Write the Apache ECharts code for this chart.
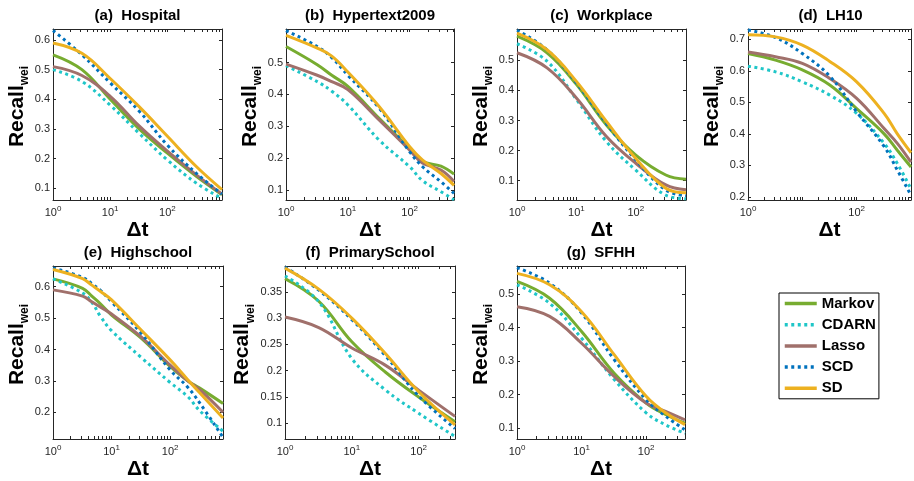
<!DOCTYPE html>
<html>
<head>
<meta charset="utf-8">
<script src="https://cdn.jsdelivr.net/npm/echarts@6/dist/echarts.min.js"></script>
<style>
  html, body { margin: 0; padding: 0; background: #fff; }
  #chart { width: 914px; height: 481px; }
</style>
</head>
<body>
<div id="chart"></div>
<script>
// Recall_wei against the prediction horizon Δt, five methods on seven contact networks
const methods = ['Markov', 'CDARN', 'Lasso', 'SCD', 'SD'];

// (a) Hospital
const dtHospital      = [1, 3.2, 10, 32, 100, 320, 900];
const markovHospital  = [0.55, 0.50, 0.40, 0.30, 0.218, 0.14, 0.078];
const cdarnHospital   = [0.50, 0.46, 0.38, 0.285, 0.195, 0.117, 0.065];
const lassoHospital   = [0.51, 0.48, 0.41, 0.31, 0.225, 0.145, 0.08];
const scdHospital     = [0.632, 0.55, 0.455, 0.36, 0.245, 0.15, 0.08];
const sdHospital      = [0.59, 0.555, 0.47, 0.375, 0.275, 0.173, 0.095];
const yTicksHospital  = [0.1, 0.2, 0.3, 0.4, 0.5, 0.6];

// (b) Hypertext2009
const dtHypertext     = [1, 3.2, 5.5, 10, 32, 100, 160, 320, 520];
const markovHypertext = [0.55, 0.493, 0.46, 0.425, 0.325, 0.23, 0.19, 0.175, 0.15];
const cdarnHypertext  = [0.49, 0.44, 0.41, 0.367, 0.257, 0.173, 0.13, 0.095, 0.07];
const lassoHypertext  = [0.495, 0.46, 0.44, 0.415, 0.32, 0.225, 0.185, 0.163, 0.127];
const scdHypertext    = [0.60, 0.55, 0.515, 0.46, 0.357, 0.22, 0.174, 0.126, 0.09];
const sdHypertext     = [0.585, 0.545, 0.52, 0.47, 0.362, 0.236, 0.195, 0.152, 0.115];
const yTicksHypertext = [0.1, 0.2, 0.3, 0.4, 0.5];

// (c) Workplace
const dtWorkplace     = [1, 3.2, 10, 32, 100, 320, 700];
const markovWorkplace = [0.58, 0.525, 0.42, 0.285, 0.185, 0.119, 0.105];
const cdarnWorkplace  = [0.555, 0.497, 0.37, 0.23, 0.135, 0.052, 0.04];
const lassoWorkplace  = [0.525, 0.475, 0.375, 0.247, 0.158, 0.086, 0.07];
const scdWorkplace    = [0.60, 0.535, 0.425, 0.29, 0.169, 0.069, 0.05];
const sdWorkplace     = [0.59, 0.535, 0.43, 0.297, 0.174, 0.075, 0.06];
const yTicksWorkplace = [0.1, 0.2, 0.3, 0.4, 0.5];

// (d) LH10
const dtLH10          = [1, 3.2, 10, 32, 100, 320, 560, 1000];
const markovLH10      = [0.655, 0.634, 0.603, 0.555, 0.48, 0.40, 0.348, 0.295];
const cdarnLH10       = [0.615, 0.597, 0.565, 0.523, 0.465, 0.37, 0.306, 0.225];
const lassoLH10       = [0.66, 0.645, 0.624, 0.576, 0.513, 0.417, 0.37, 0.31];
const scdLH10         = [0.73, 0.706, 0.655, 0.583, 0.47, 0.36, 0.285, 0.205];
const sdLH10          = [0.715, 0.708, 0.682, 0.63, 0.565, 0.465, 0.40, 0.34];
const yTicksLH10      = [0.2, 0.3, 0.4, 0.5, 0.6, 0.7];

// (e) Highschool
const dtHighschool     = [1, 3.2, 4.6, 6.5, 10, 32, 100, 200, 320, 800];
const markovHighschool = [0.625, 0.595, 0.57, 0.545, 0.51, 0.436, 0.346, 0.30, 0.277, 0.228];
const cdarnHighschool  = [0.625, 0.58, 0.55, 0.505, 0.46, 0.375, 0.295, 0.25, 0.205, 0.14];
const lassoHighschool  = [0.59, 0.57, 0.552, 0.535, 0.513, 0.44, 0.35, 0.30, 0.272, 0.20];
const scdHighschool    = [0.66, 0.63, 0.61, 0.588, 0.552, 0.452, 0.335, 0.28, 0.23, 0.12];
const sdHighschool     = [0.655, 0.626, 0.605, 0.585, 0.558, 0.462, 0.367, 0.304, 0.262, 0.182];
const yTicksHighschool = [0.2, 0.3, 0.4, 0.5, 0.6];

// (f) PrimarySchool
const dtPrimary       = [1, 3.2, 10, 32, 100, 350];
const markovPrimary   = [0.375, 0.332, 0.255, 0.197, 0.15, 0.103];
const cdarnPrimary    = [0.38, 0.331, 0.223, 0.163, 0.119, 0.075];
const lassoPrimary    = [0.302, 0.282, 0.243, 0.21, 0.163, 0.113];
const scdPrimary      = [0.397, 0.353, 0.297, 0.228, 0.152, 0.09];
const sdPrimary       = [0.395, 0.355, 0.30, 0.232, 0.16, 0.097];
const yTicksPrimary   = [0.1, 0.15, 0.2, 0.25, 0.3, 0.35];

// (g) SFHH
const dtSFHH          = [1, 3.2, 10, 32, 100, 200, 400];
const markovSFHH      = [0.537, 0.487, 0.388, 0.264, 0.175, 0.141, 0.115];
const cdarnSFHH       = [0.527, 0.472, 0.368, 0.245, 0.146, 0.11, 0.085];
const lassoSFHH       = [0.462, 0.433, 0.353, 0.254, 0.175, 0.15, 0.125];
const scdSFHH         = [0.578, 0.532, 0.443, 0.304, 0.185, 0.136, 0.095];
const sdSFHH          = [0.561, 0.527, 0.447, 0.319, 0.195, 0.146, 0.111];
const yTicksSFHH      = [0.1, 0.2, 0.3, 0.4, 0.5];

// decade labels on the Δt axes
const xLabelsDefault  = [1, 10, 100];
const xLabelsLH10     = [1, 100];

const FONT = 'Liberation Sans, Arial, Helvetica, sans-serif';
const AX = '#262626';

const styles = {
  Markov: { color: '#77AC30', dotted: false },
  CDARN:  { color: '#1FC6C8', dotted: true },
  Lasso:  { color: '#A0706B', dotted: false },
  SCD:    { color: '#0072BD', dotted: true },
  SD:     { color: '#EDB120', dotted: false }
};

const panels = [
  { title: '(a)  Hospital', dt: dtHospital, xMax: 900, yMin: 0.06, yMax: 0.637, yTicks: yTicksHospital, xLabels: xLabelsDefault,
    vals: [markovHospital, cdarnHospital, lassoHospital, scdHospital, sdHospital],
    box: { left: 53, top: 29, width: 169, height: 171 } },
  { title: '(b)  Hypertext2009', dt: dtHypertext, xMax: 520, yMin: 0.069, yMax: 0.605, yTicks: yTicksHypertext, xLabels: xLabelsDefault,
    vals: [markovHypertext, cdarnHypertext, lassoHypertext, scdHypertext, sdHypertext],
    box: { left: 286, top: 29, width: 168, height: 171 } },
  { title: '(c)  Workplace', dt: dtWorkplace, xMax: 700, yMin: 0.036, yMax: 0.604, yTicks: yTicksWorkplace, xLabels: xLabelsDefault,
    vals: [markovWorkplace, cdarnWorkplace, lassoWorkplace, scdWorkplace, sdWorkplace],
    box: { left: 517, top: 29, width: 169, height: 171 } },
  { title: '(d)  LH10', dt: dtLH10, xMax: 1000, yMin: 0.19, yMax: 0.733, yTicks: yTicksLH10, xLabels: xLabelsLH10,
    vals: [markovLH10, cdarnLH10, lassoLH10, scdLH10, sdLH10],
    box: { left: 748, top: 29, width: 165, height: 171 } },
  { title: '(e)  Highschool', dt: dtHighschool, xMax: 800, yMin: 0.115, yMax: 0.666, yTicks: yTicksHighschool, xLabels: xLabelsDefault,
    vals: [markovHighschool, cdarnHighschool, lassoHighschool, scdHighschool, sdHighschool],
    box: { left: 53, top: 266, width: 170, height: 173 } },
  { title: '(f)  PrimarySchool', dt: dtPrimary, xMax: 350, yMin: 0.07, yMax: 0.399, yTicks: yTicksPrimary, xLabels: xLabelsDefault,
    vals: [markovPrimary, cdarnPrimary, lassoPrimary, scdPrimary, sdPrimary],
    box: { left: 285, top: 266, width: 170, height: 173 } },
  { title: '(g)  SFHH', dt: dtSFHH, xMax: 400, yMin: 0.068, yMax: 0.583, yTicks: yTicksSFHH, xLabels: xLabelsDefault,
    vals: [markovSFHH, cdarnSFHH, lassoSFHH, scdSFHH, sdSFHH],
    box: { left: 517, top: 266, width: 168, height: 173 } }
];

// tick positions on a log axis: 1..9 in every decade up to the axis end
function logTicks(max) {
  const out = [];
  for (let d = 1; d <= max; d *= 10) {
    for (let k = 1; k <= 9; k++) {
      const v = k * d;
      if (v <= max * 1.0001) out.push(v);
    }
  }
  return out;
}

const grids = [], xAxes = [], yAxes = [], titles = [], series = [];

panels.forEach((p, i) => {
  grids.push(Object.assign({ containLabel: false }, p.box));

  titles.push({
    text: p.title,
    left: p.box.left + p.box.width / 2,
    top: p.box.top - 21,
    textAlign: 'center',
    padding: 0,
    textStyle: { fontFamily: FONT, fontSize: 15, fontWeight: 'bold', color: '#000' }
  });

  ['bottom', 'top'].forEach(pos => {
    xAxes.push({
      type: 'log', logBase: 10, gridIndex: i, position: pos,
      min: 1, max: p.xMax,
      axisLine: { show: true, onZero: false, lineStyle: { color: AX, width: 1 } },
      axisTick: { show: true, inside: true, length: 3, lineStyle: { color: AX }, customValues: logTicks(p.xMax) },
      axisLabel: {
        show: pos === 'bottom', margin: 5, color: AX, fontFamily: FONT,
        formatter: v => {
          const lg = Math.log10(v), e = Math.round(lg);
          if (Math.abs(lg - e) > 1e-6 || p.xLabels.indexOf(Math.pow(10, e)) < 0) return '';
          return '{b|10}{s|' + e + '}';
        },
        rich: {
          b: { fontSize: 11, lineHeight: 16, color: AX, fontFamily: FONT },
          s: { fontSize: 8, lineHeight: 8, verticalAlign: 'top', color: AX, fontFamily: FONT }
        }
      },
      splitLine: { show: false },
      name: pos === 'bottom' ? 'Δt' : '',
      nameLocation: 'middle', nameGap: 18,
      nameTextStyle: { fontFamily: FONT, fontSize: 21, fontWeight: 'bold', color: '#000' }
    });
  });

  ['left', 'right'].forEach(pos => {
    yAxes.push({
      type: 'value', gridIndex: i, position: pos,
      min: p.yMin, max: p.yMax,
      axisLine: { show: true, onZero: false, lineStyle: { color: AX, width: 1 } },
      axisTick: { show: true, inside: true, length: 3, lineStyle: { color: AX }, customValues: p.yTicks },
      axisLabel: {
        show: pos === 'left', customValues: p.yTicks, margin: 3,
        fontSize: 11, color: AX, fontFamily: FONT,
        formatter: v => String(+v.toFixed(2))
      },
      splitLine: { show: false },
      name: pos === 'left' ? '{r|Recall}{w|wei}' : '',
      nameLocation: 'middle', nameGap: 21,
      nameTextStyle: {
        padding: [0, 0, 0, 16],
        rich: {
          r: { fontFamily: FONT, fontSize: 21, fontWeight: 'bold', color: '#000', lineHeight: 28 },
          w: { fontFamily: FONT, fontSize: 12, fontWeight: 'bold', color: '#000', lineHeight: 12, verticalAlign: 'bottom' }
        }
      }
    });
  });

  methods.forEach((m, k) => {
    const st = styles[m];
    series.push({
      type: 'line', name: m,
      xAxisIndex: 2 * i, yAxisIndex: 2 * i,
      data: p.dt.map((x, j) => [x, p.vals[k][j]]),
      symbol: 'none', showSymbol: false,
      smooth: 0.4,
      lineStyle: { color: st.color, width: 3, type: st.dotted ? [3, 3.5] : 'solid', cap: 'butt' },
      itemStyle: { color: st.color },
      z: 2 + k
    });
  });
});

const chart = echarts.init(document.getElementById('chart'), null, { renderer: 'canvas' });
chart.setOption({
  backgroundColor: '#fff',
  animation: false,
  title: titles,
  grid: grids,
  xAxis: xAxes,
  yAxis: yAxes,
  legend: {
    data: methods,
    left: 779, top: 293,
    orient: 'vertical', align: 'left',
    itemWidth: 32, itemHeight: 14, itemGap: 6.2,
    padding: [3, 3, 3, 4],
    borderColor: '#000', borderWidth: 1,
    selectedMode: false,
    itemStyle: { opacity: 0, borderWidth: 0 },
    lineStyle: { width: 3.5 },
    textStyle: { fontFamily: FONT, fontSize: 15, fontWeight: 'bold', color: '#000', lineHeight: 14 }
  },
  series: series
});
</script>
</body>
</html>
